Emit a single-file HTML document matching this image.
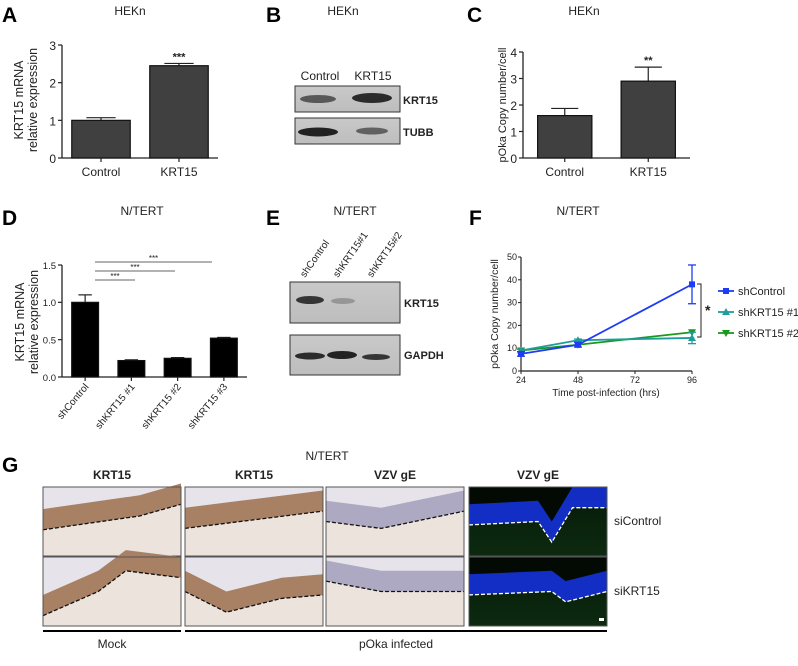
<!DOCTYPE html>
<html><head><meta charset="utf-8"><style>
html,body{margin:0;padding:0;background:#fff;}
svg{display:block;font-family:"Liberation Sans",Arial,sans-serif;}
</style></head><body>
<svg id="fig" width="798" height="666" viewBox="0 0 798 666" xmlns="http://www.w3.org/2000/svg">
<defs>
<linearGradient id="blot" x1="0" y1="0" x2="0" y2="1"><stop offset="0" stop-color="#c9c9c9"/><stop offset="1" stop-color="#bdbdbd"/></linearGradient>
<linearGradient id="fl" x1="0" y1="0" x2="0" y2="1"><stop offset="0" stop-color="#061a08"/><stop offset="1" stop-color="#0c2a10"/></linearGradient>
</defs>
<g id="panels" font-size="12" fill="#222"></g>
</svg>
<script>
// ---- data ----
const aCats=["Control","KRT15"];
const aVals=[1.0,2.45];
const aErr=[0.07,0.06];
const aTicks=[0,1,2,3];
const cCats=["Control","KRT15"];
const cVals=[1.6,2.9];
const cErr=[0.27,0.53];
const cTicks=[0,1,2,3,4];
const dCats=["shControl","shKRT15 #1","shKRT15 #2","shKRT15 #3"];
const dVals=[1.0,0.22,0.25,0.52];
const dErr=[0.1,0.01,0.01,0.01];
const dTicks=["0.0","0.5","1.0","1.5"];
const fTimes=[24,48,72,96];
const fX=[24,48,96];
const fCtrl=[7.5,11.5,38];
const fCtrlErr=[1,1,8.5];
const fSh1=[9,13.5,14.5];
const fSh1Err=[0.5,0.5,2.5];
const fSh2=[9,11.5,17];
const fYTicks=[0,10,20,30,40,50];

const NS="http://www.w3.org/2000/svg";
const root=document.getElementById('panels');
function el(tag,attrs,parent,text){const e=document.createElementNS(NS,tag);for(const k in attrs)e.setAttribute(k,attrs[k]);if(text!==undefined)e.textContent=text;(parent||root).appendChild(e);return e;}
function txt(x,y,s,size,opts,name){const t=el('text',Object.assign({x:x,y:y,'font-size':size},opts||{}),root,s);


return t;}

[["A",2,22],["B",266,22],["C",467,22],["D",2,225],["E",266,225],["F",469,225],["G",2,472]].forEach(p=>{
 const t=txt(p[1],p[2],p[0],21,{'font-weight':'bold',fill:'#000'},'panel-letter');
 
});
txt(130,15,"HEKn",12,{'text-anchor':'middle'},'title-a');
txt(343,15,"HEKn",12,{'text-anchor':'middle'},'title-b');
txt(584,15,"HEKn",12,{'text-anchor':'middle'},'title-c');
txt(142,215,"N/TERT",12,{'text-anchor':'middle'},'title-d');
txt(355,215,"N/TERT",12,{'text-anchor':'middle'},'title-e');
txt(578,215,"N/TERT",12,{'text-anchor':'middle'},'title-f');
txt(327,460,"N/TERT",12,{'text-anchor':'middle'},'title-g');

function barChart(o){
 const yS=v=>o.y0-(v-o.min)/(o.max-o.min)*(o.y0-o.y1);
 el('line',{x1:o.ax,y1:o.y1,x2:o.ax,y2:o.y0,stroke:'#222','stroke-width':1.3});
 el('line',{x1:o.ax,y1:o.y0,x2:o.axEnd,y2:o.y0,stroke:'#222','stroke-width':1.3});
 o.ticks.forEach(tk=>{const v=parseFloat(tk);const y=yS(v);
  el('line',{x1:o.ax-4,y1:y,x2:o.ax,y2:y,stroke:'#222','stroke-width':1.2});
  txt(o.ax-6,y+o.tf/2-1,String(tk),o.tf,{'text-anchor':'end'},'y-tick-label');
 });
 const n=o.vals.length;const slot=(o.axEnd-o.ax)/n;
 o.vals.forEach((v,i)=>{
  const cx=o.ax+slot*(i+0.5);const w=slot*o.bw;
  const eb=yS(v+o.err[i]);
  el('line',{x1:cx,y1:eb,x2:cx,y2:yS(v),stroke:'#222','stroke-width':1.2});
  el('line',{x1:cx-w*0.25,y1:eb,x2:cx+w*0.25,y2:eb,stroke:'#222','stroke-width':1.2});
  const r=el('rect',{x:cx-w/2,y:yS(v),width:w,height:o.y0-yS(v),fill:o.fill,stroke:'#111','stroke-width':1.2});
  
  
  el('line',{x1:cx,y1:o.y0,x2:cx,y2:o.y0+4,stroke:'#222','stroke-width':1.2});
  if(o.rot){txt(cx+4,o.y0+10,o.cats[i],10,{'text-anchor':'end',transform:`rotate(-50 ${cx+4} ${o.y0+10})`},'x-tick-label');}
  else txt(cx,o.y0+18,o.cats[i],12,{'text-anchor':'middle'},'x-tick-label');
  if(o.stars&&o.stars[i])txt(cx,eb-3,o.stars[i],11,{'text-anchor':'middle','font-weight':'bold'},'significance-stars');
 });
 return yS;
}
barChart({ax:62,axEnd:218,y0:158,y1:45,min:0,max:3,ticks:aTicks,vals:aVals,err:aErr,cats:aCats,bw:0.75,fill:'#404040',tf:12,stars:["","***"]});
barChart({ax:523,axEnd:690,y0:158,y1:52,min:0,max:4,ticks:cTicks,vals:cVals,err:cErr,cats:cCats,bw:0.65,fill:'#404040',tf:12,stars:["","**"]});
barChart({ax:62,axEnd:247,y0:377,y1:265,min:0,max:1.5,ticks:dTicks,vals:dVals,err:dErr,cats:dCats,bw:0.58,fill:'#000',tf:9.5,rot:true});
[[262,212],[271,175],[280,135]].forEach(s=>{el('line',{x1:95,y1:s[0],x2:s[1],y2:s[0],stroke:'#333','stroke-width':0.8});txt((95+s[1])/2,s[0]-1,"***",8,{'text-anchor':'middle'},'significance-stars');});
function ytitle(x,y,lines,size,name){lines.forEach((l,i)=>txt(x+i*size*1.1,y,l,size,{'text-anchor':'middle',transform:`rotate(-90 ${x+i*size*1.1} ${y})`},name));}
ytitle(23,100,["KRT15 mRNA","relative expression"],12.5,'y-axis-title-a');
ytitle(506,105,["pOka Copy number/cell"],11,'y-axis-title-c');
ytitle(24,322,["KRT15 mRNA","relative expression"],12.5,'y-axis-title-d');

function blot(x,y,w,h,bands,name){const g=el('g',{});
 
 
 el('rect',{x:x,y:y,width:w,height:h,fill:'url(#blot)',stroke:'#333','stroke-width':1},g);
 bands.forEach(b=>el('ellipse',{cx:b[0],cy:b[1],rx:b[2],ry:b[3],fill:'#111',opacity:b[4]},g));}
blot(295,86,105,26,[[318,99,18,4,0.6],[372,98,20,5,0.85]],'blot-krt15-hekn');
blot(295,118,105,26,[[318,132,20,4.5,0.9],[372,131,16,3.5,0.55]],'blot-tubb-hekn');
txt(320,80,"Control",12,{'text-anchor':'middle'},'lane-label');
txt(373,80,"KRT15",12,{'text-anchor':'middle'},'lane-label');
txt(403,104,"KRT15",11,{'font-weight':'bold'},'blot-label');
txt(403,136,"TUBB",11,{'font-weight':'bold'},'blot-label');
blot(290,282,110,41,[[310,300,14,4,0.8],[343,301,12,3,0.25]],'blot-krt15-ntert');
blot(290,335,110,40,[[310,356,15,3.5,0.85],[342,355,15,4,0.9],[376,357,14,3,0.8]],'blot-gapdh-ntert');
[["shControl",305],["shKRT15#1",338],["shKRT15#2",372]].forEach(l=>txt(l[1],278,l[0],10,{transform:`rotate(-55 ${l[1]} 278)`},'lane-label'));
txt(404,307,"KRT15",11,{'font-weight':'bold'},'blot-label');
txt(404,359,"GAPDH",11,{'font-weight':'bold'},'blot-label');

const fx0=521,fx1=692,fy0=371,fy1=257;
const xS=t=>fx0+(t-24)/(96-24)*(fx1-fx0);
const yF=v=>fy0-v/50*(fy0-fy1);
el('line',{x1:fx0,y1:fy1,x2:fx0,y2:fy0,stroke:'#222','stroke-width':1.2});
el('line',{x1:fx0,y1:fy0,x2:fx1,y2:fy0,stroke:'#222','stroke-width':1.2});
fYTicks.forEach(v=>{el('line',{x1:fx0-3,y1:yF(v),x2:fx0,y2:yF(v),stroke:'#222'});txt(fx0-4,yF(v)+3,String(v),9,{'text-anchor':'end'},'y-tick-label');});
fTimes.forEach(t=>{el('line',{x1:xS(t),y1:fy0,x2:xS(t),y2:fy0+3,stroke:'#222'});txt(xS(t),fy0+12,String(t),9,{'text-anchor':'middle'},'x-tick-label');});
txt(606,396,"Time post-infection (hrs)",10,{'text-anchor':'middle'},'x-axis-title-f');
ytitle(498,314,["pOka Copy number/cell"],10.5,'y-axis-title-f');
function drawMarker(x,y,m,c){
 if(m==='sq')el('rect',{x:x-3,y:y-3,width:6,height:6,fill:c});
 else if(m==='up')el('polygon',{points:`${x},${y-4} ${x-4},${y+3} ${x+4},${y+3}`,fill:c});
 else el('polygon',{points:`${x},${y+4} ${x-4},${y-3} ${x+4},${y-3}`,fill:c});
}
function series(vals,err,color,marker,name){
 const pts=vals.map((v,i)=>[xS(fX[i]),yF(v)]);
 const p=el('polyline',{points:pts.map(p=>p.join(',')).join(' '),fill:'none',stroke:color,'stroke-width':1.8});
 
 
 vals.forEach((v,i)=>{const x=pts[i][0];
  if(err){const a=yF(v+err[i]),b=yF(v-err[i]);el('line',{x1:x,y1:a,x2:x,y2:b,stroke:color,'stroke-width':1.3});el('line',{x1:x-4,y1:a,x2:x+4,y2:a,stroke:color,'stroke-width':1.3});el('line',{x1:x-4,y1:b,x2:x+4,y2:b,stroke:color,'stroke-width':1.3});}
  drawMarker(x,pts[i][1],marker,color);
 });
}
series(fSh2,null,'#1a9a1a','dn','shkrt15-2');
series(fSh1,fSh1Err,'#1f9d9a','up','shkrt15-1');
series(fCtrl,fCtrlErr,'#1f3cf5','sq','shcontrol');
el('polyline',{points:`697,284 701,284 701,337 697,337`,fill:'none',stroke:'#222','stroke-width':1});
txt(705,315,"*",14,{'font-weight':'bold'},'significance-star-f');
[["shControl",'#1f3cf5','sq',291],["shKRT15 #1",'#1f9d9a','up',312],["shKRT15 #2",'#1a9a1a','dn',333]].forEach(l=>{
 const g=el('line',{x1:718,y1:l[3],x2:734,y2:l[3],stroke:l[1],'stroke-width':1.8});
 
 
 drawMarker(726,l[3],l[2],l[1]);
 txt(738,l[3]+4,l[0],11,{},'legend-label');
});

const cols=[43,185,326,469];const w=138;
const rows=[[487,556],[557,626]];
const heads=["KRT15","KRT15","VZV gE","VZV gE"];
heads.forEach((h,i)=>txt(cols[i]+w/2,479,h,12,{'text-anchor':'middle','font-weight':'bold'},'column-header'));
const boundaries=[
 [[0,0.62,0.7,0.42,1,0.25],[0,0.6,0.4,0.5,1,0.35],[0,0.5,0.4,0.6,1,0.35],[0,0.55,0.5,0.5,0.6,0.8,0.75,0.3,1,0.3]],
 [[0,0.85,0.4,0.5,0.6,0.2,1,0.3],[0,0.5,0.3,0.8,0.7,0.6,1,0.55],[0,0.35,0.4,0.5,1,0.5],[0,0.55,0.6,0.5,0.7,0.65,1,0.5]]
];
rows.forEach((r,ri)=>{const h=r[1]-r[0];
 cols.forEach((x,ci)=>{const g=el('g',{});
  
  
  const fluo=ci===3;
  el('rect',{x:x,y:r[0],width:w,height:h,fill:fluo?'url(#fl)':'#ece4dc'},g);
  const b=boundaries[ri][ci];let pts=[];for(let k=0;k<b.length;k+=2)pts.push([x+b[k]*w,r[0]+b[k+1]*h]);
  const line=pts.map(p=>p.join(',')).join(' ');
  el('polygon',{points:`${x},${r[0]} ${x+w},${r[0]} `+pts.slice().reverse().map(p=>`${p[0]},${p[1]-h*0.3}`).join(' '),fill:fluo?'#020a03':'#e6e4ea'},g);
  const upper=pts.map(p=>`${p[0]},${p[1]-h*0.3}`).join(' ');
  const bandCol=fluo?'#1530d8':(ci===2?'#a6a2bf':'#a17456');
  el('polygon',{points:upper+' '+pts.slice().reverse().map(p=>p.join(',')).join(' '),fill:bandCol,opacity:0.9},g);
  el('polyline',{points:line,fill:'none',stroke:fluo?'#fff':'#111','stroke-width':1.3,'stroke-dasharray':'4,2'},g);
  el('rect',{x:x,y:r[0],width:w,height:h,fill:'none',stroke:'#555','stroke-width':1},g);
 });
});
el('rect',{x:599,y:618,width:5,height:3,fill:'#fff'});
txt(614,525,"siControl",12,{},'row-label-sicontrol');
txt(614,595,"siKRT15",12,{},'row-label-sikrt15');
el('line',{x1:43,y1:631,x2:181,y2:631,stroke:'#000','stroke-width':2});
el('line',{x1:185,y1:631,x2:607,y2:631,stroke:'#000','stroke-width':2});
txt(112,648,"Mock",12,{'text-anchor':'middle'},'group-label-mock');
txt(396,648,"pOka infected",12,{'text-anchor':'middle'},'group-label-poka');
</script>
</body></html>
